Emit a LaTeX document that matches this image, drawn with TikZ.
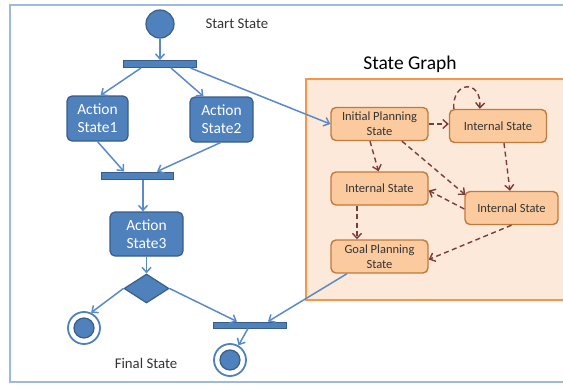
\documentclass[tikz,border=0pt]{standalone}
\usepackage{fontspec}
\setmainfont{Carlito}
\usetikzlibrary{shapes.geometric,arrows.meta,calc}
\definecolor{bfill}{HTML}{4F81BD}
\definecolor{bdraw}{HTML}{385D8A}
\definecolor{barrow}{HTML}{5A8BC8}
\definecolor{frame}{HTML}{9DB9DC}
\definecolor{pfill}{HTML}{FDE9D9}
\definecolor{pdraw}{HTML}{F79646}
\definecolor{sfill}{HTML}{FBCB9F}
\definecolor{sdraw}{HTML}{C07A3E}
\definecolor{darr}{HTML}{7B3B3B}
\definecolor{txt}{HTML}{333333}
\tikzset{
  actbox/.style={rectangle, rounded corners=5pt, draw=bdraw, fill=bfill, line width=1.2pt,
    text=white, font=\fontsize{15.5}{18}\selectfont, align=center, inner sep=0pt},
  barbox/.style={rectangle, draw=bdraw, fill=bfill, line width=1pt, inner sep=0pt},
  stbox/.style={rectangle, rounded corners=5pt, draw=sdraw, fill=sfill, line width=1.4pt,
    text=txt, font=\fontsize{12.5}{15}\selectfont, align=center, inner sep=0pt,
    minimum width=97pt, minimum height=33pt},
  barr/.style={draw=barrow, line width=1.5pt, -{Straight Barb[length=5pt,width=9pt]}},
  darrw/.style={draw=darr, line width=1.4pt, dashed, dash pattern=on 5pt off 3.5pt,
    -{Straight Barb[length=5pt,width=9pt]}},
  lbl/.style={text=txt, font=\fontsize{14.8}{17}\selectfont}
}
\begin{document}
\begin{tikzpicture}[x=1pt,y=-1pt]
\useasboundingbox (0,0) rectangle (563,388);
% outer frame
\draw[frame, line width=2pt] (10,5) rectangle (570,382);
% state graph panel
\node[rectangle, draw=pdraw, fill=pfill, line width=1.5pt, minimum width=260pt, minimum height=221pt, inner sep=0pt] (panel) at (436,189.5) {};
\node[text=black, font=\fontsize{19.5}{22}\selectfont] (sgt) at (410,64) {State Graph};

% activity part
\node[circle, draw=bdraw, fill=bfill, line width=1.2pt, minimum size=28pt, inner sep=0pt] (start) at (160,24) {};
\node[lbl, anchor=west] (stl) at (202,24) {Start State};
\node[barbox, minimum width=73pt, minimum height=7pt] (bar1) at (160,64) {};
\node[actbox, minimum width=61pt, minimum height=45pt] (a1) at (97.5,118.5) {Action\\State1};
\node[actbox, minimum width=63pt, minimum height=45pt] (a2) at (221.5,119.5) {Action\\State2};
\node[barbox, minimum width=72pt, minimum height=7pt] (bar2) at (137,175.5) {};
\node[actbox, minimum width=73pt, minimum height=44pt] (a3) at (146.5,234) {Action\\State3};
\node[diamond, draw=bdraw, fill=bfill, line width=1.2pt, minimum width=45pt, minimum height=29pt, inner sep=0pt] (dia) at (146.5,288.5) {};
\node[circle, draw=bfill, fill=white, line width=1.8pt, minimum size=32pt, inner sep=0pt] (f1) at (84,328) {};
\node[circle, draw=bdraw, fill=bfill, line width=1.2pt, minimum size=20pt, inner sep=0pt] (f1i) at (84,328) {};
\node[barbox, minimum width=73pt, minimum height=6pt] (bar3) at (249.5,325) {};
\node[circle, draw=bfill, fill=white, line width=1.8pt, minimum size=32pt, inner sep=0pt] (f2) at (230,360) {};
\node[circle, draw=bdraw, fill=bfill, line width=1.2pt, minimum size=20pt, inner sep=0pt] (f2i) at (230,360) {};
\node[lbl] (fsl) at (146,363) {Final State};

% state graph nodes
\node[stbox] (ip) at (379.5,124) {Initial Planning\\State};
\node[stbox] (it) at (498,126) {Internal State};
\node[stbox] (il) at (379.5,188.5) {Internal State};
\node[stbox, minimum width=93pt] (ir) at (511.5,208) {Internal State};
\node[stbox] (gp) at (379.5,256.5) {Goal Planning\\State};

% blue connectors
\draw[barr] (start.south) -- (bar1.north);
\draw[barr] ([xshift=-19pt]bar1.south) -- ([xshift=3pt]a1.north);
\draw[barr] ([xshift=11pt]bar1.south) -- ([xshift=-18pt]a2.north);
\draw[barr] ([xshift=-6.5pt]bar1.south east) -- (ip.west);
\draw[barr] (a1.south) -- ([xshift=-13pt]bar2.north);
\draw[barr] ([xshift=-1pt]a2.south) -- ([xshift=20pt]bar2.north);
\draw[barr] ([xshift=6pt]bar2.south) -- ([xshift=6pt]bar2.south |- a3.north);
\draw[barr] (a3.south) -- (dia.north);
\draw[barr] (dia.west) -- (f1.65);
\draw[barr] (dia.east) -- ([xshift=-12.5pt]bar3.north);
\draw[barr] ([xshift=-32.5pt]gp.south) -- ([xshift=18.5pt]bar3.north);
\draw[barr] ([xshift=-1.5pt]bar3.south) -- (f2.60);

% dashed connectors
\draw[darrw] (ip.east) -- (it.west |- ip.east);
\draw[darrw] ([xshift=5pt]it.north west) .. controls +(-2,-28) and +(2,-30) .. ([xshift=31pt]it.north west);
\draw[darrw] ([xshift=-9.5pt]ip.south) -- ([xshift=-1pt]il.north);
\draw[darrw] ([xshift=22.5pt]ip.south) -- ([xshift=1pt,yshift=-4pt]ir.north west);
\draw[darrw] ([xshift=6pt]it.south) -- ([xshift=-1.5pt]ir.north);
\draw[darrw] ([yshift=-1pt]ir.west) -- ([yshift=-2pt]il.east);
\draw[darrw] ([xshift=-22.5pt]il.south) -- ([xshift=-22.5pt]gp.north);
\draw[darrw] (ir.south) -- ([yshift=-3pt]gp.east);
\end{tikzpicture}
\end{document}
